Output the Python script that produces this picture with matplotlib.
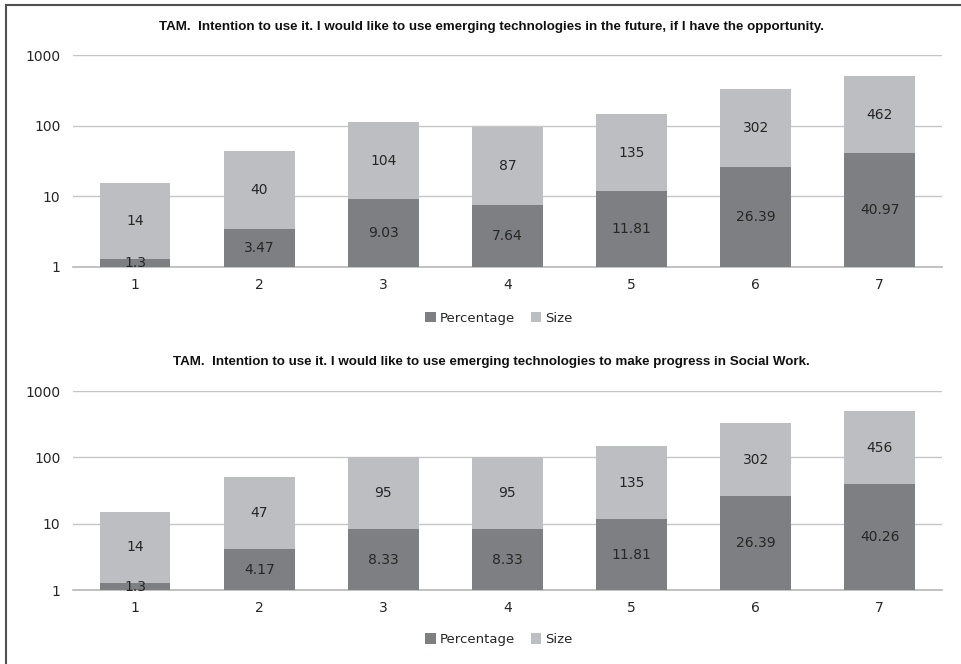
'''
TAM intention-to-use charts: stacked percentage / size bars on a log axis
'''

# Imports
import numpy as np
import matplotlib
matplotlib.use('Agg')
import matplotlib.pyplot as plt
from matplotlib.lines import Line2D

# Data
categories = ['1', '2', '3', '4', '5', '6', '7']

title_future = 'TAM.  Intention to use it. I would like to use emerging technologies in the future, if I have the opportunity.'
pct_future = [1.3, 3.47, 9.03, 7.64, 11.81, 26.39, 40.97]
size_future = [14, 40, 104, 87, 135, 302, 462]

title_social = 'TAM.  Intention to use it. I would like to use emerging technologies to make progress in Social Work.'
pct_social = [1.3, 4.17, 8.33, 8.33, 11.81, 26.39, 40.26]
size_social = [14, 47, 95, 95, 135, 302, 456]

yticks = [1, 10, 100, 1000]

# Style
DARK = '#7e7f82'
LIGHT = '#bdbec1'
GRID = '#c6c6c6'
TXT = '#262626'
TICK_FONT = ['DejaVu Sans']
TITLE_FONT = ['Liberation Sans', 'DejaVu Sans']


def fmt(v):
    return ('%g' % v)


def DrawPanel(ax, pct, size):
    x = np.arange(len(categories))
    pct = np.array(pct, dtype=float)
    size = np.array(size, dtype=float)
    w = 0.57
    ax.bar(x, pct - 1, bottom=1, width=w, color=DARK, label='Percentage', zorder=3)
    ax.bar(x, size, bottom=pct, width=w, color=LIGHT, label='Size', zorder=3)

    # labels sit at the visual (log) middle of each segment
    for i in range(len(x)):
        yp = np.sqrt(1 * pct[i])
        ys = np.sqrt(pct[i] * (pct[i] + size[i]))
        ax.text(x[i], yp, fmt(pct[i]), ha='center', va='center', fontsize=10,
                color=TXT, family=TICK_FONT, zorder=4)
        ax.text(x[i], ys, fmt(size[i]), ha='center', va='center', fontsize=10,
                color=TXT, family=TICK_FONT, zorder=4)

    ax.set_yscale('log')
    ax.set_ylim(1, 1000)
    ax.set_xlim(-0.5, len(x) - 0.5)
    ax.set_yticks(yticks)
    ax.set_yticklabels([str(t) for t in yticks], family=TICK_FONT, fontsize=10, color=TXT)
    ax.yaxis.set_minor_locator(matplotlib.ticker.NullLocator())
    ax.set_xticks(x)
    ax.set_xticklabels(categories, family=TICK_FONT, fontsize=10, color=TXT)
    ax.tick_params(length=0, pad=8)
    ax.tick_params(axis='y', pad=9)
    for s in ax.spines.values():
        s.set_visible(False)
    ax.grid(axis='y', color=GRID, linewidth=1, zorder=0)
    ax.axhline(1, color='#b8b8b8', linewidth=1.2, zorder=2, clip_on=False)
    ax.set_facecolor('white')

    leg = ax.legend(loc='upper center', bbox_to_anchor=(0.49, -0.155), ncol=2, frameon=False,
                    handlelength=0.8, handleheight=0.8, handletextpad=0.3, columnspacing=1.2,
                    prop={'family': TICK_FONT, 'size': 9.5})
    for t in leg.get_texts():
        t.set_color(TXT)


# Figure
fig = plt.figure(figsize=(9.61, 6.64), dpi=100)

# top and left frame lines only
fig.add_artist(Line2D([5.5 / 961, 1.0], [1 - 4.5 / 664] * 2, transform=fig.transFigure,
                      color='#505050', linewidth=1.5))
fig.add_artist(Line2D([5.5 / 961] * 2, [0.0, 1 - 4.5 / 664], transform=fig.transFigure,
                      color='#505050', linewidth=1.5))

ax1 = fig.add_axes([0.076, 0.598, 0.904, 0.319])
ax2 = fig.add_axes([0.076, 0.111, 0.904, 0.300])

DrawPanel(ax1, pct_future, size_future)
DrawPanel(ax2, pct_social, size_social)

fig.text(0.511, 1 - 27 / 664, title_future, ha='center', va='center', fontsize=9.6,
         fontweight='bold', family=TITLE_FONT, color='#111111')
fig.text(0.511, 1 - 362 / 664, title_social, ha='center', va='center', fontsize=9.6,
         fontweight='bold', family=TITLE_FONT, color='#111111')

fig.savefig('out.png', dpi=100, facecolor='white')
